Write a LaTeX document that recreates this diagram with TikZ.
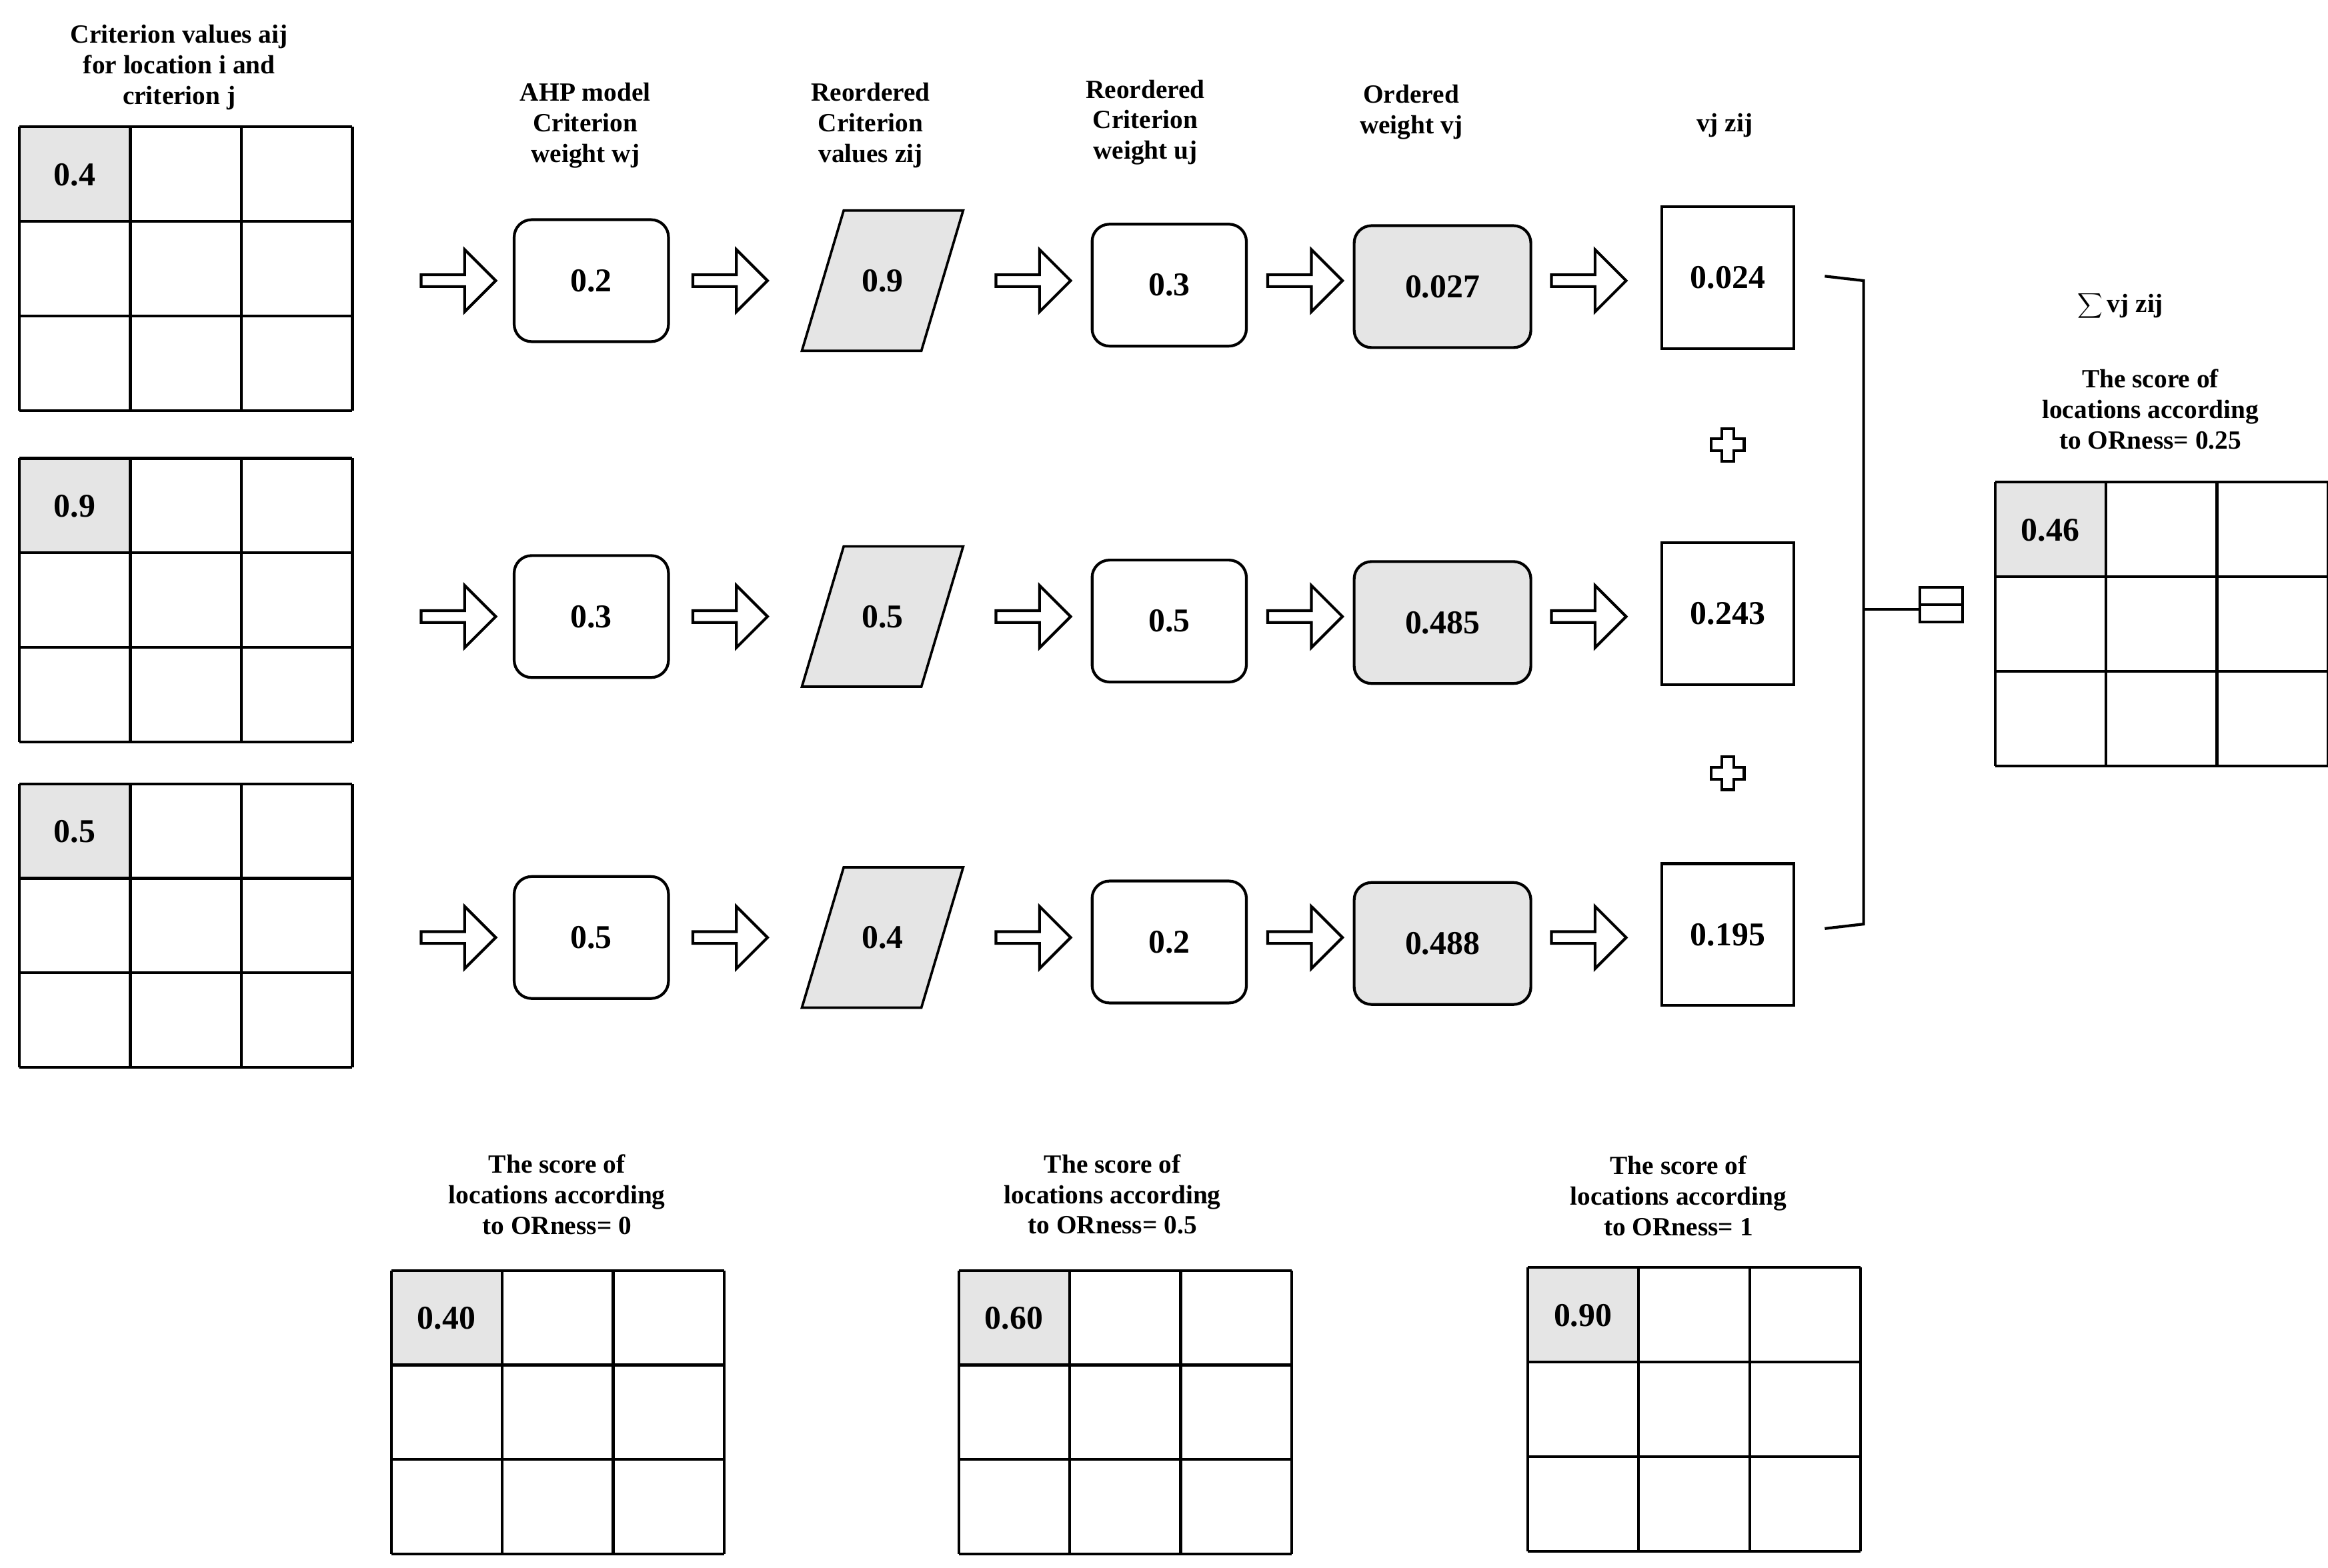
\documentclass[tikz,border=0pt]{standalone}
\usepackage{fontspec}
\setmainfont{Liberation Serif}
\usetikzlibrary{shapes.arrows,shapes.geometric}
\begin{document}
\begin{tikzpicture}[x=0.03cm,y=-0.03cm,
 lbl/.style={font=\bfseries\fontsize{15}{17.5}\selectfont,align=center},
 val/.style={font=\bfseries\fontsize{19}{22}\selectfont},
 harrow/.style={single arrow,draw,line width=1.6pt,minimum width=1.25cm,single arrow head extend=0.12cm,minimum height=1.5cm,inner sep=0pt},
 rbox/.style={draw,line width=1.6pt,rounded corners=0.35cm,minimum width=3.1cm,minimum height=2.45cm,val},
 gbox/.style={rbox,fill=gray!20,minimum width=3.55cm},
 sq/.style={draw,line width=1.6pt,minimum width=2.65cm,minimum height=2.85cm,val}]
\useasboundingbox (0,0) rectangle (1559,1050);
\newcommand{\grid}[4]{% x y name value
 \fill[gray!20] (#1,#2) rectangle ++(74.3,63.3);
 \foreach \i in {0,1,2,3}{\draw[line width=1.6pt] (#1+\i*74.33,#2)--(#1+\i*74.33,#2+190);
   \draw[line width=1.6pt] (#1,#2+\i*63.33)--(#1+223,#2+\i*63.33);}
 \node[val] (#3) at (#1+37,#2+32) {#4};}
\newcommand{\hplus}[3]{% x y name
 \draw[line width=1.6pt] (#1-4,#2-11)--(#1+4,#2-11)--(#1+4,#2-4)--(#1+11,#2-4)--(#1+11,#2+4)--(#1+4,#2+4)--(#1+4,#2+11)--(#1-4,#2+11)--(#1-4,#2+4)--(#1-11,#2+4)--(#1-11,#2-4)--(#1-4,#2-4)--cycle;
 \coordinate (#3) at (#1,#2);}
\grid{13}{85}{m1}{0.4}
\grid{13}{307}{m2}{0.9}
\grid{13}{525}{m3}{0.5}
\grid{1336}{323}{mr}{0.46}
\grid{262}{851}{mb1}{0.40}
\grid{642}{851}{mb2}{0.60}
\grid{1023}{849}{mb3}{0.90}
\node[lbl] (t0) at (120,45) {Criterion values aij\\for location i and\\criterion j};
\node[lbl] (t1) at (392,84) {AHP model\\Criterion\\weight wj};
\node[lbl] (t2) at (583,84) {Reordered\\Criterion\\values zij};
\node[lbl] (t3) at (767,82) {Reordered\\Criterion\\weight uj};
\node[lbl] (t4) at (945,75) {Ordered\\weight vj};
\node[lbl] (t5) at (1155,84) {vj zij};
\node[lbl] (ts) at (1420,205) {$\displaystyle\sum$\,vj zij};
\node[lbl] (tr) at (1440,274) {The score of\\locations according\\to ORness= 0.25};
\node[lbl] (tb1) at (373,800) {The score of\\locations according\\to ORness= 0};
\node[lbl] (tb2) at (745,800) {The score of\\locations according\\to ORness= 0.5};
\node[lbl] (tb3) at (1124,801) {The score of\\locations according\\to ORness= 1};
\foreach \r/\y/\a/\b/\c/\d/\e in {1/188/0.2/0.9/0.3/0.027/0.024, 2/413/0.3/0.5/0.5/0.485/0.243, 3/628/0.5/0.4/0.2/0.488/0.195}{
 \node[harrow] (a1\r) at (305,\y) {};
 \node[rbox] (w\r) at (396,\y) {\a};
 \node[harrow] (a2\r) at (487,\y) {};
 \draw[line width=1.4pt,fill=gray!20] (565,\y-47)--(645,\y-47)--(617,\y+47)--(537,\y+47)--cycle;
 \node[val] (z\r) at (591,\y) {\b};
 \node[harrow] (a3\r) at (690,\y) {};
 \node[rbox] (u\r) at (783,\y+3) {\c};
 \node[harrow] (a4\r) at (872,\y) {};
 \node[gbox] (v\r) at (966,\y+4) {\d};
 \node[harrow] (a5\r) at (1062,\y) {};
 \node[sq] (p\r) at (1157,\y-2) {\e};
}
\hplus{1157}{298}{plus1}
\hplus{1157}{518}{plus2}
\coordinate (b1) at (1222,185); \coordinate (b3) at (1222,622);
\draw[line width=1.6pt] (b1) -- (1248,188) -- (1248,619) -- (b3);
\draw[line width=1.6pt] (1248,408) -- (1285,408);
\node[draw,line width=1.6pt,minimum width=0.85cm,minimum height=0.7cm,inner sep=0pt] (eq) at (1300,405) {};
\draw[line width=1.6pt] (eq.west)--(eq.east);
\end{tikzpicture}
\end{document}
